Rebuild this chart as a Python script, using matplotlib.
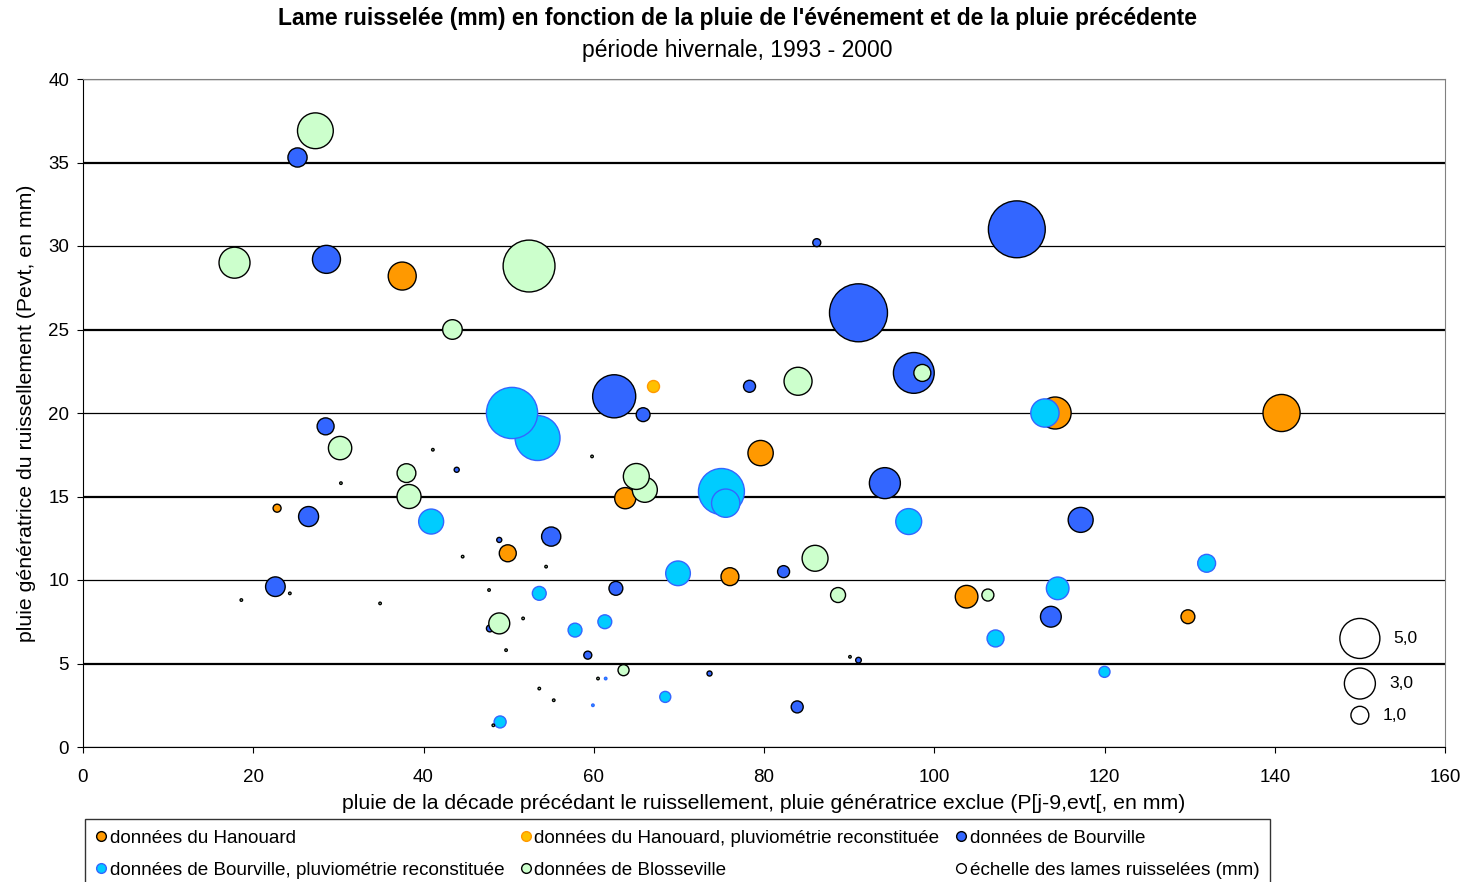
import matplotlib
matplotlib.use('Agg')
import matplotlib.pyplot as plt
from matplotlib.lines import Line2D
import numpy as np

plt.rcParams['font.family'] = ['Liberation Sans', 'DejaVu Sans']

# ---- data : pluie précédente (mm), pluie de l'événement (mm), lame ruisselée (mm)

# données du Hanouard
han_x = [37.5, 79.6, 63.7, 49.9, 22.8, 76.0, 114.2, 140.8, 103.8, 129.8]
han_y = [28.2, 17.6, 14.9, 11.6, 14.3, 10.2, 20.0, 20.0, 9.0, 7.8]
han_l = [2.45, 2.0, 1.4, 0.9, 0.2, 1.0, 3.2, 4.3, 1.6, 0.6]

# données du Hanouard, pluviométrie reconstituée
hanr_x = [67.0]
hanr_y = [21.6]
hanr_l = [0.45]

# données de Bourville
bou_x = [25.2, 28.6, 109.7, 91.1, 97.6, 62.4, 65.8, 78.3, 86.2, 28.5, 94.2,
         117.2, 26.5, 55.0, 22.6, 62.6, 82.3, 113.7, 47.8, 59.3, 83.9, 73.6,
         91.1, 43.9, 48.9]
bou_y = [35.3, 29.2, 31.0, 26.0, 22.4, 21.0, 19.9, 21.6, 30.2, 19.2, 15.8,
         13.6, 13.8, 12.6, 9.6, 9.5, 10.5, 7.8, 7.1, 5.5, 2.4, 4.4,
         5.2, 16.6, 12.4]
bou_l = [1.15, 2.45, 10.1, 10.5, 5.2, 5.8, 0.6, 0.45, 0.2, 0.9, 3.0,
         1.95, 1.25, 1.15, 1.2, 0.6, 0.45, 1.35, 0.15, 0.2, 0.45, 0.08,
         0.1, 0.08, 0.08]

# données de Bourville, pluviométrie reconstituée
bour_x = [53.4, 50.4, 75.0, 75.5, 40.9, 69.9, 97.0, 113.0, 114.5, 132.0,
          107.2, 120.0, 53.6, 57.8, 61.3, 68.4, 49.0, 61.4, 59.9]
bour_y = [18.5, 20.0, 15.3, 14.6, 13.5, 10.4, 13.5, 20.0, 9.5, 11.0,
          6.5, 4.5, 9.2, 7.0, 7.5, 3.0, 1.5, 4.1, 2.5]
bour_l = [6.3, 8.2, 6.6, 2.5, 1.95, 1.9, 2.1, 2.5, 1.6, 1.0,
          0.9, 0.38, 0.6, 0.6, 0.6, 0.38, 0.45, 0.02, 0.02]

# données de Blosseville
blo_x = [27.3, 17.8, 52.4, 43.4, 30.2, 38.0, 38.3, 66.0, 65.0, 84.0, 98.6,
         86.0, 88.7, 106.3, 48.9, 63.5,
         18.6, 24.3, 30.3, 34.9, 41.1, 44.6, 47.7, 48.2, 49.7, 51.7, 53.6,
         54.4, 55.3, 59.8, 60.5, 90.1]
blo_y = [36.9, 29.0, 28.8, 25.0, 17.9, 16.4, 15.0, 15.4, 16.2, 21.9, 22.4,
         11.3, 9.1, 9.1, 7.4, 4.6,
         8.8, 9.2, 15.8, 8.6, 17.8, 11.4, 9.4, 1.3, 5.8, 7.7, 3.5,
         10.8, 2.8, 17.4, 4.1, 5.4]
blo_l = [4.0, 3.0, 8.4, 1.2, 1.7, 1.1, 1.8, 1.95, 2.1, 2.45, 0.9,
         2.1, 0.7, 0.45, 1.37, 0.38,
         0.02, 0.02, 0.02, 0.02, 0.02, 0.02, 0.02, 0.02, 0.02, 0.02, 0.02,
         0.02, 0.02, 0.02, 0.02, 0.02]

# échelle des lames ruisselées
ech_x = [150, 150, 150]
ech_y = [6.5, 3.8, 1.9]
ech_l = [5.0, 3.0, 1.0]
ech_lab = ['5,0', '3,0', '1,0']

k = 166.0  # points^2 par mm de lame

fig = plt.figure(figsize=(14.63, 8.82), dpi=100)
ax = fig.add_axes([83/1463, 1 - 747/882, (1445-83)/1463, (747-79)/882])

series = [
    (han_x, han_y, han_l, '#FF9900', 'black', 'données du Hanouard'),
    (hanr_x, hanr_y, hanr_l, '#FFC000', '#FF9900', 'données du Hanouard, pluviométrie reconstituée'),
    (bou_x, bou_y, bou_l, '#3366FF', 'black', 'données de Bourville'),
    (bour_x, bour_y, bour_l, '#00CCFF', '#3366FF', 'données de Bourville, pluviométrie reconstituée'),
    (blo_x, blo_y, blo_l, '#CCFFCC', 'black', 'données de Blosseville'),
    (ech_x, ech_y, ech_l, 'white', 'black', 'échelle des lames ruisselées (mm)'),
]

handles = []
for i, (x, y, l, fc, ec, lab) in enumerate(series):
    ax.scatter(x, y, s=k*np.array(l), c=fc, edgecolors=ec, linewidths=1.0,
               zorder=3+i)
    handles.append(Line2D([], [], ls='none', marker='o', markersize=7,
                          markerfacecolor=fc, markeredgecolor=ec,
                          markeredgewidth=1.0, label=lab))

for x, y, l, lab in zip(ech_x, ech_y, ech_l, ech_lab):
    r = np.sqrt(k*l)/2
    ax.annotate(lab, (x, y), xytext=(r + 10, 0), textcoords='offset points',
                ha='left', va='center', fontsize=12.5)

ax.set_xlim(0, 160)
ax.set_ylim(0, 40)
ax.set_xticks(np.arange(0, 161, 20))
ax.set_yticks(np.arange(0, 41, 5))
ax.tick_params(direction='out', length=4, labelsize=13.5, colors='black')
ax.tick_params(axis='x', pad=12)
ax.tick_params(axis='y', pad=6)

ax.yaxis.grid(True, color='black')
for v, gl in zip(ax.get_yticks(), ax.get_ygridlines()):
    gl.set_linewidth(1.6 if v % 10 == 5 else 0.9)
ax.set_axisbelow(True)

ax.spines['top'].set_color('#808080')
ax.spines['right'].set_color('#808080')
for s in ['left', 'bottom']:
    ax.spines[s].set_color('black')

ax.set_xlabel("pluie de la décade précédant le ruissellement, pluie génératrice exclue (P[j-9,evt[, en mm)",
              fontsize=15.3)
ax.set_ylabel("pluie génératrice du ruissellement (Pevt, en mm)", fontsize=15.3)
ax.xaxis.set_label_coords(0.5, -0.071)
ax.yaxis.set_label_coords(-0.0345, 0.5)

fig.text(0.504, 1 - 19/882, "Lame ruisselée (mm) en fonction de la pluie de l'événement et de la pluie précédente",
         ha='center', va='center', fontsize=16.5, fontweight='bold')
fig.text(0.504, 1 - 50/882, "période hivernale, 1993 - 2000",
         ha='center', va='center', fontsize=16.5)

order = [0, 3, 1, 4, 2, 5]
leg = fig.legend([handles[i] for i in order], [handles[i].get_label() for i in order],
                 ncol=3, loc='upper left', bbox_to_anchor=(85/1463, 1 - 819/882),
                 fontsize=13.6, frameon=True, fancybox=False, edgecolor='black',
                 columnspacing=0.85, handletextpad=0.15, handlelength=0.6,
                 labelspacing=0.8, borderpad=0.55, borderaxespad=0)
leg.get_frame().set_linewidth(1.0)

fig.savefig('out.png', dpi=100)
